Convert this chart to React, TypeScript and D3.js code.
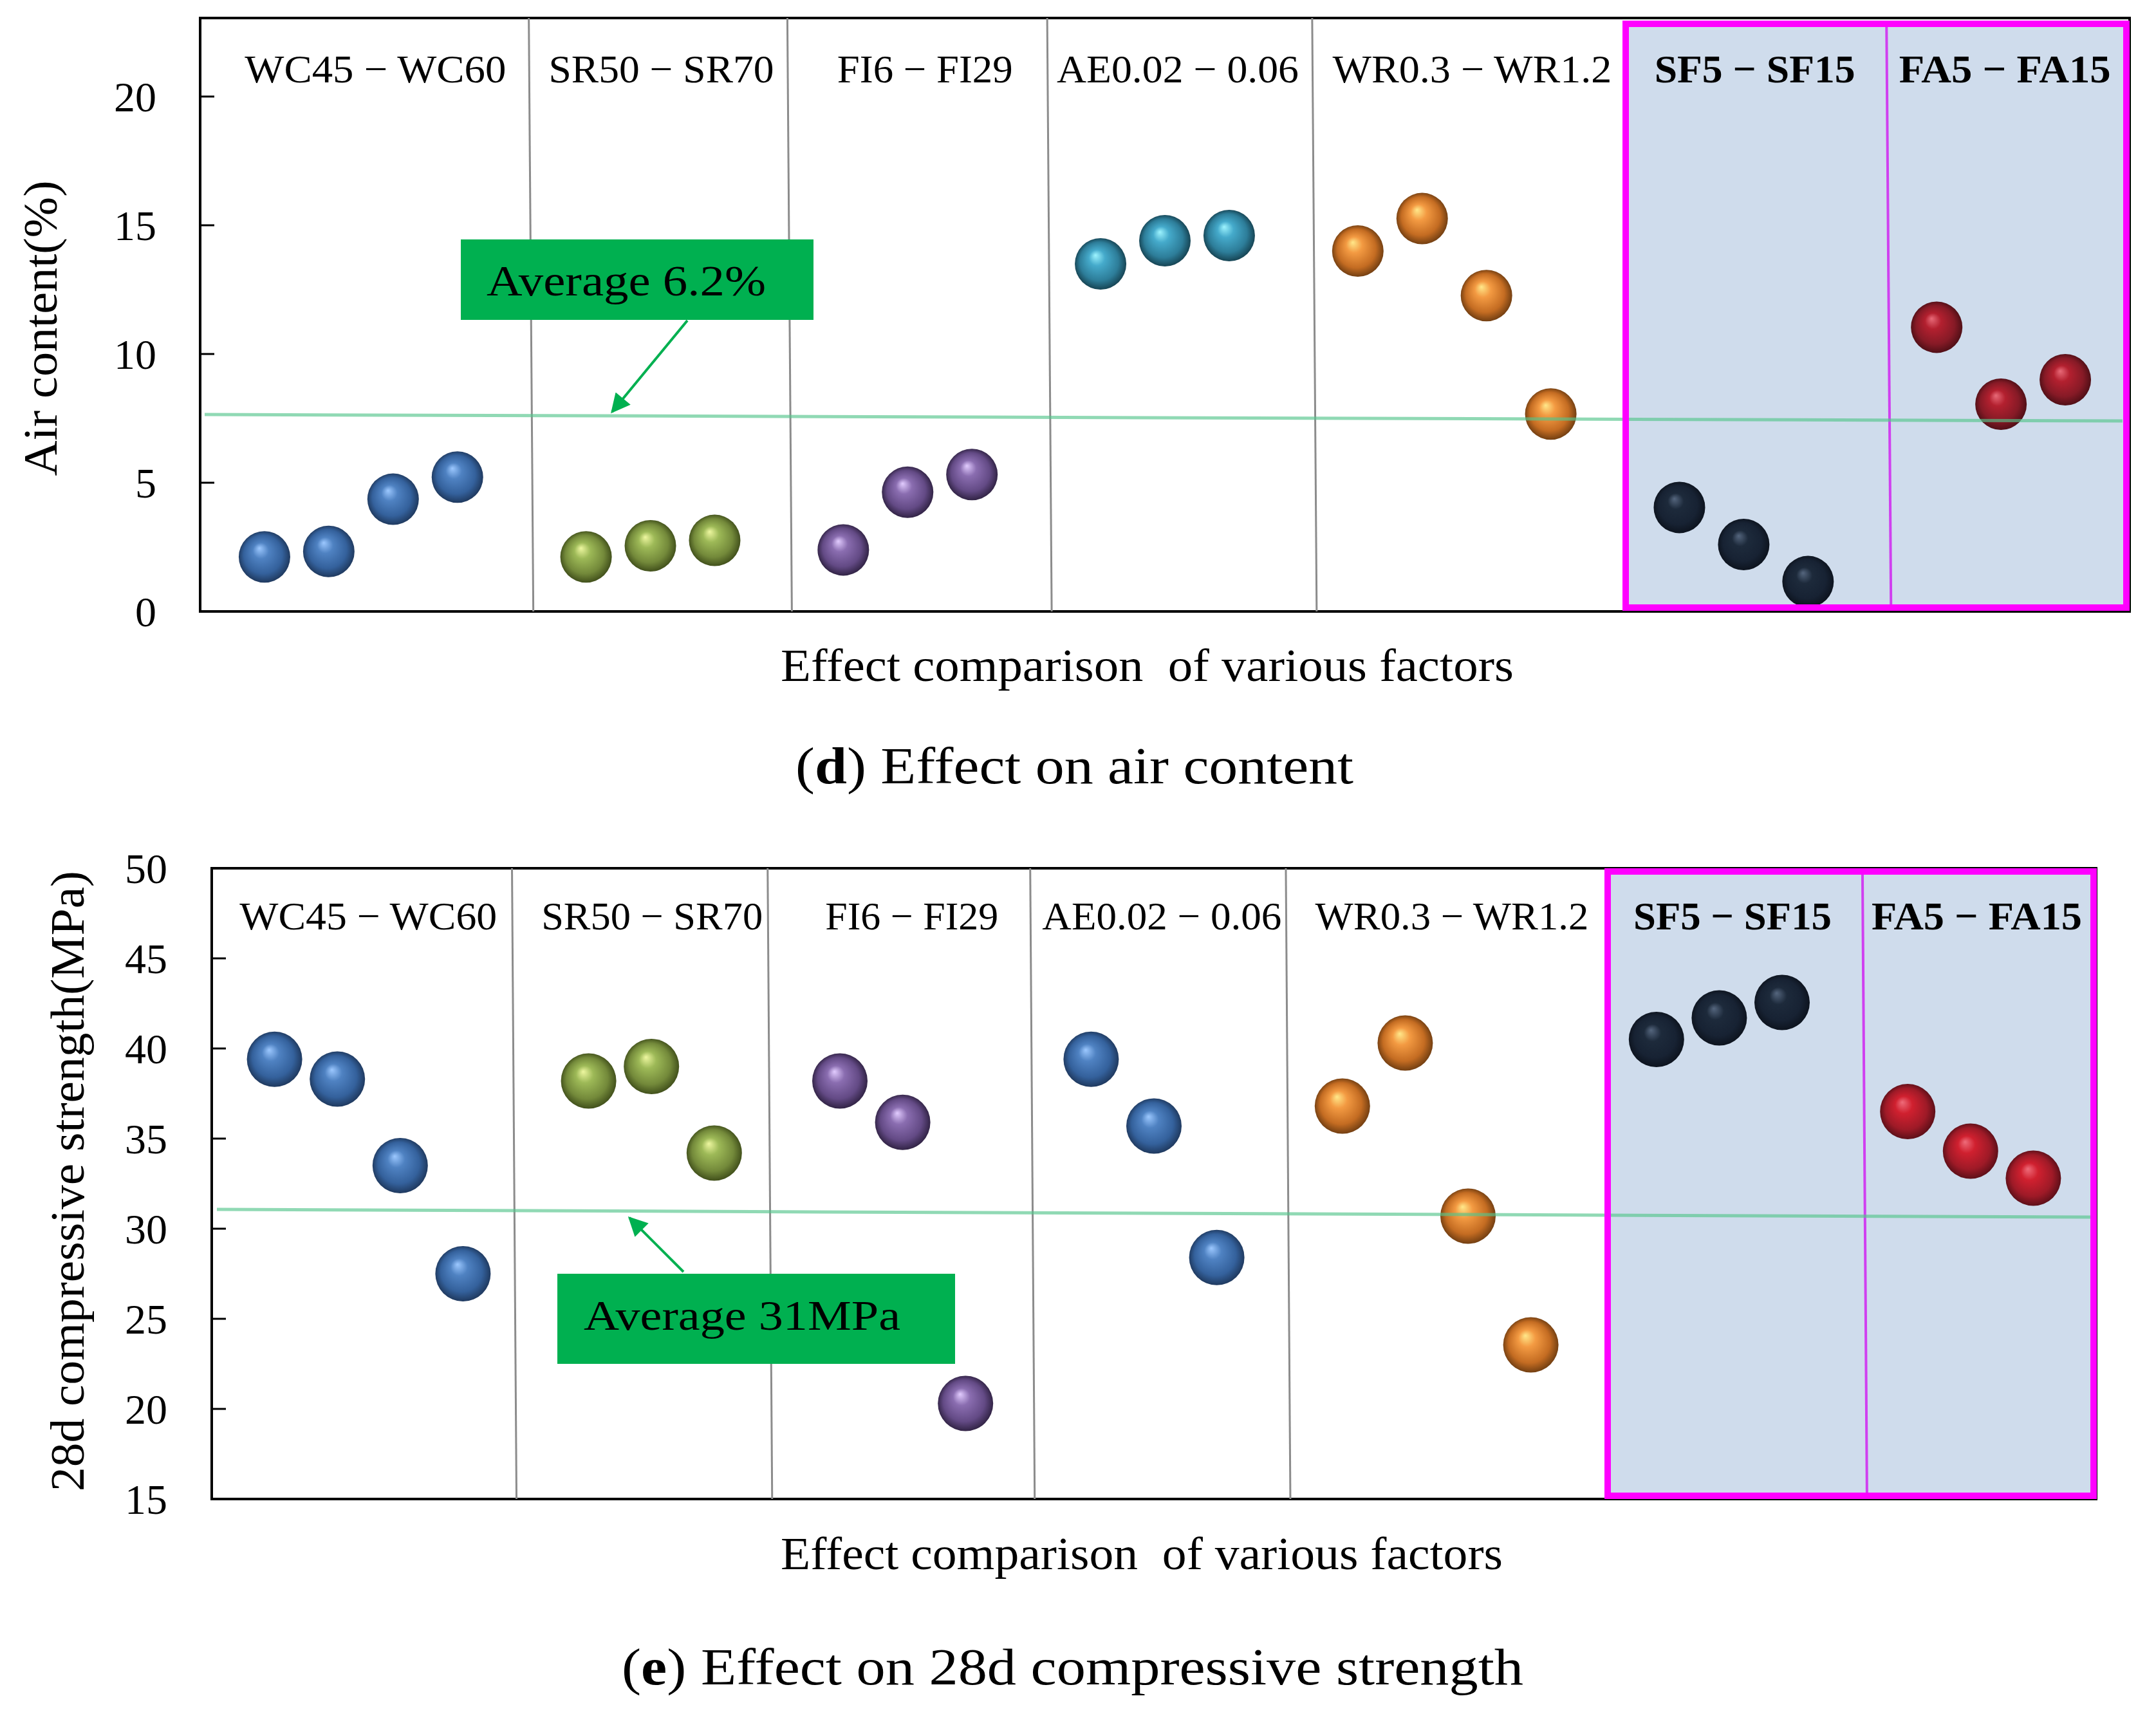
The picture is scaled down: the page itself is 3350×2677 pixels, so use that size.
import * as d3 from 'd3';

// factor groups along the x axis; one empty slot separates neighbouring groups
const categories = ['WC45 − WC60', 'SR50 − SR70', 'FI6 − FI29', 'AE0.02 − 0.06', 'WR0.3 − WR1.2', 'SF5 − SF15', 'FA5 − FA15'];
const highlighted = ['SF5 − SF15', 'FA5 − FA15'];
const firstSlot = [0, 5, 9, 13, 17, 22, 26];

// (d) air content, %
const airContent = [
  [2.12, 2.33, 4.36, 5.22],
  [2.12, 2.55, 2.76],
  [2.39, 4.63, 5.32],
  [13.5, 14.4, 14.6],
  [14.0, 15.26, 12.27, 7.67],
  [4.04, 2.6, 1.16],
  [11.04, 8.05, 9.0],
];
const airColors = ['blue', 'olive', 'purple', 'cyan', 'orange', 'navy', 'wine'];
const airTicks = [0, 5, 10, 15, 20];
const airAverageLine = [7.65, 7.4]; // left end, right end (the line is drawn a bit tilted)
const airAverageLabel = 'Average 6.2%';
const airDividers = [4.11, 8.13, 12.17, 16.29];
const airInnerDivider = 25.22;

// (e) 28d compressive strength, MPa
const strength28d = [
  [39.4, 38.3, 33.5, 27.5],
  [38.2, 39.0, 34.2],
  [38.2, 35.9, 20.3],
  [39.4, 35.7, 28.4],
  [36.8, 40.3, 30.7, 23.55],
  [40.5, 41.7, 42.55],
  [36.5, 34.3, 32.8],
];
const strengthColors = ['blue', 'olive', 'purple', 'blue', 'orange', 'navy', 'red'];
const strengthTicks = [15, 20, 25, 30, 35, 40, 45, 50];
const strengthAverageLine = [31.07, 30.64];
const strengthAverageLabel = 'Average 31MPa';
const strengthDividers = [3.78, 7.85, 12.03, 16.1];
const strengthInnerDivider = 25.28;

// sphere shading: highlight, base, shadow, rim
const palette: Record<string, string[]> = {
  blue: ['#9cc8ff', '#4f82c2', '#34619c', '#1d3558'],
  olive: ['#eef7a0', '#9db957', '#73893a', '#3c4a18'],
  purple: ['#e2ccff', '#8a6db0', '#634a85', '#2c1f3e'],
  cyan: ['#9ef4ff', '#45aacb', '#2d7d99', '#143e4c'],
  orange: ['#ffe88a', '#f39a42', '#c46c22', '#6a3a10'],
  navy: ['#55667e', '#1d2a3b', '#172233', '#0c121c'],
  wine: ['#e86a78', '#b3202f', '#861a26', '#4a0e15'],
  red: ['#ee6c7a', '#d0202f', '#9e1a27', '#560e17'],
};

const serif = '"Liberation Serif", "Times New Roman", Times, serif';
const GREEN = '#00b050';

type Layout = {
  left: number; right: number; top: number; bottom: number;
  yDomain: [number, number]; yRange: [number, number];
  r: number; tickLabelX: number;
  yTitle: string; yTitleX: number; yTitleY: number; yTitleLen: number;
  labelY: number; labelShifts: number[]; labelLens: number[];
  box: { x0: number; x1: number; y0: number; y1: number };
  avgX: [number, number];
  note: { x: number; y: number; w: number; h: number; tx: number; ty: number; len: number; size: number };
  arrow: [number, number, number, number];
  xTitleY: number; xTitleX: number; xTitleLen: number;
  caption: { bold: string; rest: string; x: number; y: number; len: number };
};

function Panel({ layout, values, colors, ticks, avg, avgLabel, dividers, innerDivider }: {
  layout: Layout; values: number[][]; colors: string[]; ticks: number[]; avg: number[]; avgLabel: string;
  dividers: number[]; innerDivider: number;
}) {
  const L = layout;
  const x = d3.scaleLinear().domain([-1, 29]).range([L.left, L.right]);
  const y = d3.scaleLinear().domain(L.yDomain).range(L.yRange);
  const edges = [-1, ...dividers, x.invert(L.box.x0), innerDivider, 29];
  const tilt = 7;
  const avgY = d3.scaleLinear().domain(L.avgX).range([y(avg[0]), y(avg[1])]);

  return (
    <g>
      {/* highlighted SF / FA region */}
      <rect x={L.box.x0} y={L.box.y0} width={L.box.x1 - L.box.x0} height={L.box.y1 - L.box.y0} fill="#cfdcec" />
      <rect x={L.left} y={L.top} width={L.right - L.left} height={L.bottom - L.top} fill="none" stroke="#000" strokeWidth={4} />
      {dividers.map((d, i) => (
        <line key={i} x1={x(d)} x2={x(d) + tilt} y1={L.top} y2={L.bottom} stroke="#8c8c8c" strokeWidth={3} />
      ))}
      <line x1={x(innerDivider)} x2={x(innerDivider) + tilt} y1={L.box.y0} y2={L.box.y1} stroke="#d040f0" strokeWidth={4} />
      {ticks.map((t) => (
        <g key={t}>
          <line x1={L.left} x2={L.left + 22} y1={y(t)} y2={y(t)} stroke="#000" strokeWidth={3} />
          <text x={L.tickLabelX} y={y(t)} dy="0.35em" textAnchor="end" fontFamily={serif} fontSize={66}>{t}</text>
        </g>
      ))}
      {values.map((vals, g) =>
        vals.map((v, j) => (
          <circle key={`${g}-${j}`} cx={x(firstSlot[g] + j)} cy={y(v)} r={L.r} fill={`url(#${colors[g]})`} />
        )),
      )}
      <line x1={L.avgX[0]} x2={L.avgX[1]} y1={avgY(L.avgX[0])} y2={avgY(L.avgX[1])} stroke="#55c58c" strokeOpacity={0.65} strokeWidth={5} />
      <rect x={L.box.x0} y={L.box.y0} width={L.box.x1 - L.box.x0} height={L.box.y1 - L.box.y0} fill="none" stroke="#ff00ff" strokeWidth={10} />
      {categories.map((c, i) => (
        <text key={c} x={(x(edges[i]) + x(edges[i + 1])) / 2 + L.labelShifts[i]} y={L.labelY} textAnchor="middle"
          fontFamily={serif} fontSize={62} fontWeight={highlighted.includes(c) ? 'bold' : 'normal'}
          textLength={L.labelLens[i]} lengthAdjust="spacingAndGlyphs">{c}</text>
      ))}
      <rect x={L.note.x} y={L.note.y} width={L.note.w} height={L.note.h} fill={GREEN} />
      <text x={L.note.tx} y={L.note.ty} fontFamily={serif} fontSize={L.note.size} textLength={L.note.len} lengthAdjust="spacingAndGlyphs">{avgLabel}</text>
      <line x1={L.arrow[0]} y1={L.arrow[1]} x2={L.arrow[2]} y2={L.arrow[3]} stroke={GREEN} strokeWidth={4} markerEnd="url(#arrowHead)" />
      <text transform={`translate(${L.yTitleX},${L.yTitleY}) rotate(-90)`} textAnchor="middle" fontFamily={serif} fontSize={75}
        textLength={L.yTitleLen} lengthAdjust="spacingAndGlyphs">{L.yTitle}</text>
      <text x={L.xTitleX} y={L.xTitleY} fontFamily={serif} fontSize={72} style={{ whiteSpace: 'pre' }}
        textLength={L.xTitleLen} lengthAdjust="spacingAndGlyphs">{'Effect comparison  of various factors'}</text>
      <text x={L.caption.x} y={L.caption.y} fontFamily={serif} fontSize={80} style={{ whiteSpace: 'pre' }}
        textLength={L.caption.len} lengthAdjust="spacingAndGlyphs">
        (<tspan fontWeight="bold">{L.caption.bold}</tspan>){L.caption.rest}
      </text>
    </g>
  );
}

const topLayout: Layout = {
  left: 311, right: 3309, top: 28, bottom: 950,
  yDomain: [0, 20], yRange: [950, 150], r: 40, tickLabelX: 243,
  yTitle: 'Air content(%)', yTitleX: 88, yTitleY: 510, yTitleLen: 459,
  labelY: 128, labelShifts: [17, 5, 12, -3, 5, -2, -5], labelLens: [406, 350, 273, 376, 434, 312, 329],
  box: { x0: 2526, x1: 3304, y0: 37, y1: 944 },
  avgX: [318, 3298],
  note: { x: 716, y: 372, w: 548, h: 125, tx: 756, ty: 459, len: 434, size: 68 },
  arrow: [1068, 498, 951, 640],
  xTitleX: 1213, xTitleY: 1058, xTitleLen: 1139,
  caption: { bold: 'd', rest: ' Effect on air content', x: 1236, y: 1217, len: 867 },
};

const bottomLayout: Layout = {
  left: 329, right: 3257, top: 1349, bottom: 2329,
  yDomain: [15, 50], yRange: [2329, 1349], r: 43, tickLabelX: 260,
  yTitle: '28d compressive strength(MPa)', yTitleX: 130, yTitleY: 1835, yTitleLen: 964,
  labelY: 1444, labelShifts: [10, 19, 20, 6, 8, -4, -4], labelLens: [400, 344, 269, 372, 425, 308, 327],
  box: { x0: 2498, x1: 3253, y0: 1354, y1: 2324 },
  avgX: [337, 3250],
  note: { x: 866, y: 1979, w: 618, h: 140, tx: 907, ty: 2066, len: 492, size: 66 },
  arrow: [1062, 1976, 978, 1892],
  xTitleX: 1213, xTitleY: 2438, xTitleLen: 1122,
  caption: { bold: 'e', rest: ' Effect on 28d compressive strength', x: 966, y: 2617, len: 1401 },
};

export default function App() {
  return (
    <svg width={3350} height={2677} style={{ position: 'absolute', left: 0, top: 0, background: '#fff' }}>
      <defs>
        {Object.entries(palette).map(([k, c]) => (
          <radialGradient key={k} id={k} cx="0.5" cy="0.5" r="0.52" fx="0.4" fy="0.33">
            <stop offset="0%" stopColor={c[0]} />
            <stop offset="30%" stopColor={c[1]} />
            <stop offset="72%" stopColor={c[2]} />
            <stop offset="100%" stopColor={c[3]} />
          </radialGradient>
        ))}
        <marker id="arrowHead" viewBox="0 0 10 10" refX="9" refY="5" markerUnits="userSpaceOnUse"
          markerWidth={34} markerHeight={30} orient="auto">
          <path d="M0,0 L10,5 L0,10 z" fill={GREEN} />
        </marker>
      </defs>
      <rect width={3350} height={2677} fill="#fff" />
      <Panel layout={topLayout} values={airContent} colors={airColors} ticks={airTicks} avg={airAverageLine}
        avgLabel={airAverageLabel} dividers={airDividers} innerDivider={airInnerDivider} />
      <Panel layout={bottomLayout} values={strength28d} colors={strengthColors} ticks={strengthTicks} avg={strengthAverageLine}
        avgLabel={strengthAverageLabel} dividers={strengthDividers} innerDivider={strengthInnerDivider} />
    </svg>
  );
}
